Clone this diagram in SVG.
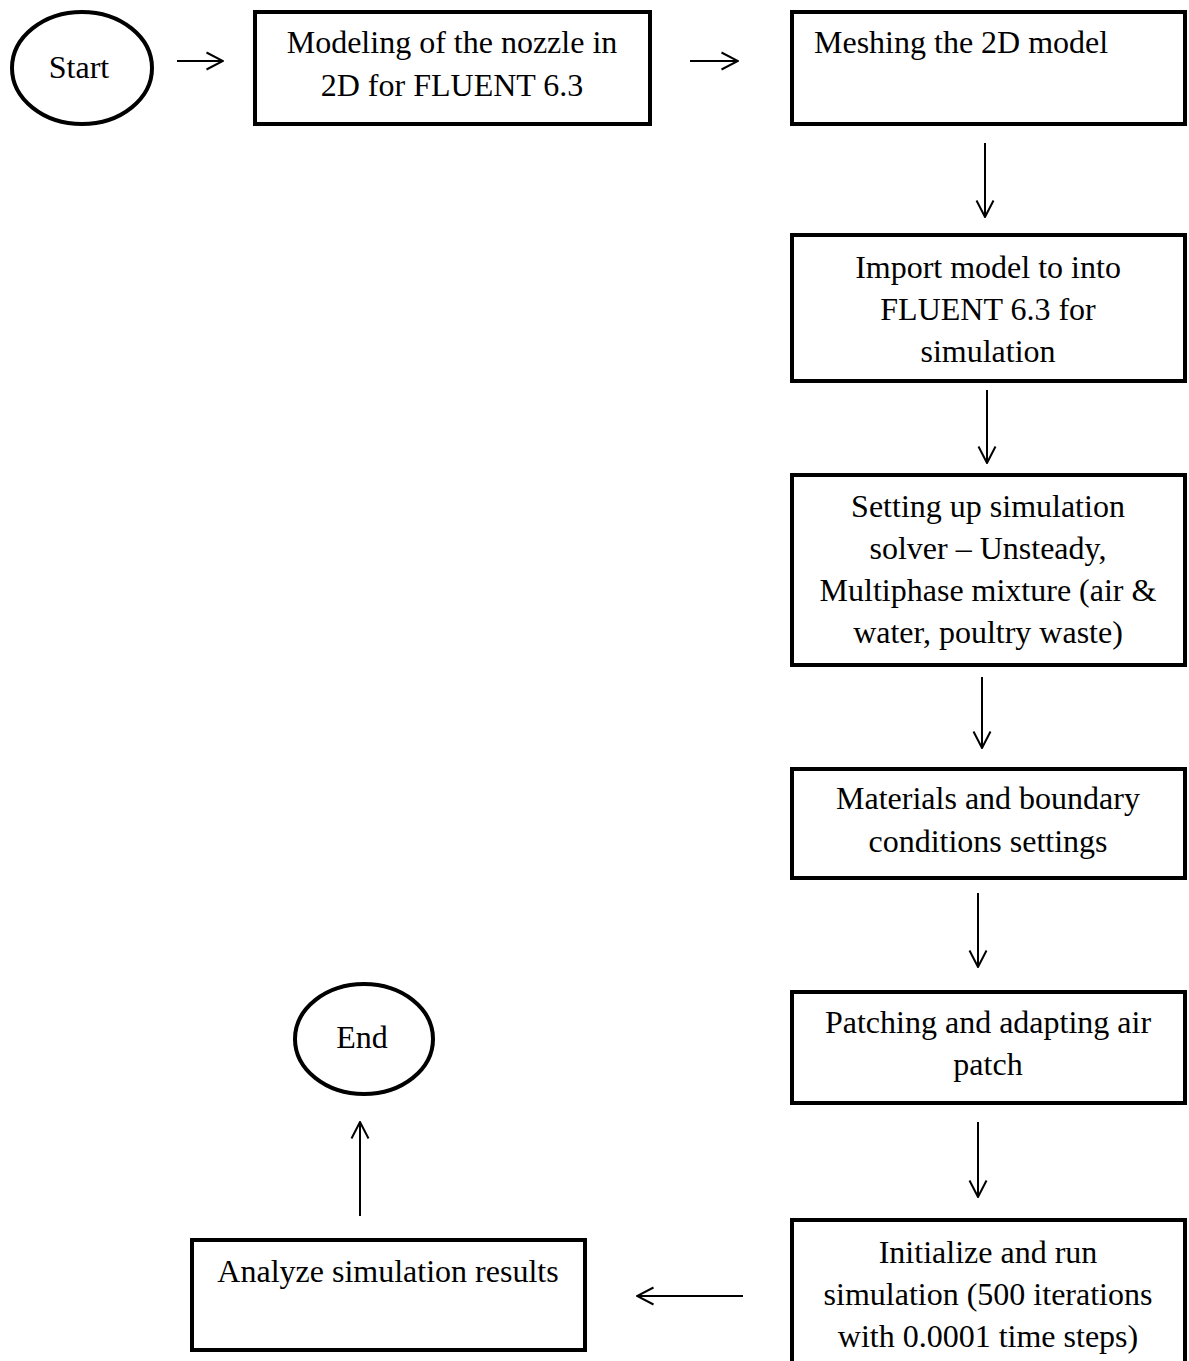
<svg xmlns="http://www.w3.org/2000/svg" width="1189" height="1361" viewBox="0 0 1189 1361">
<style>
.box{fill:#fff;stroke:#000;stroke-width:4}
.term{fill:#fff;stroke:#000;stroke-width:4}
.t{font-family:"Liberation Serif","Times New Roman",serif;font-size:32px;fill:#000;text-anchor:middle}
.tl{text-anchor:start}
.c{stroke:#000;stroke-width:2;fill:none}
</style>
<defs>
<marker id="arr" viewBox="0 0 19 20" refX="18" refY="10" markerWidth="19" markerHeight="20" orient="auto" markerUnits="userSpaceOnUse">
<path d="M1.5,1.5 L18,10 L1.5,18.5" fill="none" stroke="#000" stroke-width="2"/>
</marker>
</defs>
<rect width="1189" height="1361" fill="#fff"/>
<g id="connectors">
<line class="c" x1="177" y1="61" x2="223" y2="61" marker-end="url(#arr)"/>
<line class="c" x1="690" y1="61" x2="738" y2="61" marker-end="url(#arr)"/>
<line class="c" x1="985" y1="143" x2="985" y2="217" marker-end="url(#arr)"/>
<line class="c" x1="987" y1="390" x2="987" y2="463" marker-end="url(#arr)"/>
<line class="c" x1="982" y1="677" x2="982" y2="748" marker-end="url(#arr)"/>
<line class="c" x1="978" y1="893" x2="978" y2="967" marker-end="url(#arr)"/>
<line class="c" x1="978" y1="1122" x2="978" y2="1197" marker-end="url(#arr)"/>
<line class="c" x1="743" y1="1296" x2="637" y2="1296" marker-end="url(#arr)"/>
<line class="c" x1="360" y1="1216" x2="360" y2="1122" marker-end="url(#arr)"/>
</g>
<g id="start">
<ellipse class="term" cx="82" cy="68" rx="70" ry="56"/>
<text class="t" x="79" y="78">Start</text>
</g>
<g id="modeling">
<rect class="box" x="255" y="12" width="395" height="112"/>
<text class="t" x="452" y="53">Modeling of the nozzle in</text>
<text class="t" x="452" y="96">2D for FLUENT 6.3</text>
</g>
<g id="meshing">
<rect class="box" x="792" y="12" width="393" height="112"/>
<text class="t tl" x="814" y="53">Meshing the 2D model</text>
</g>
<g id="import">
<rect class="box" x="792" y="235" width="393" height="146"/>
<text class="t" x="988" y="278">Import model to into</text>
<text class="t" x="988" y="320">FLUENT 6.3 for</text>
<text class="t" x="988" y="362">simulation</text>
</g>
<g id="setup">
<rect class="box" x="792" y="475" width="393" height="190"/>
<text class="t" x="988" y="517">Setting up simulation</text>
<text class="t" x="988" y="559">solver – Unsteady,</text>
<text class="t" x="988" y="601">Multiphase mixture (air &amp;</text>
<text class="t" x="988" y="643">water, poultry waste)</text>
</g>
<g id="materials">
<rect class="box" x="792" y="769" width="393" height="109"/>
<text class="t" x="988" y="809">Materials and boundary</text>
<text class="t" x="988" y="852">conditions settings</text>
</g>
<g id="patching">
<rect class="box" x="792" y="992" width="393" height="111"/>
<text class="t" x="988" y="1033">Patching and adapting air</text>
<text class="t" x="988" y="1075">patch</text>
</g>
<g id="initialize">
<rect class="box" x="792" y="1220" width="393" height="160"/>
<text class="t" x="988" y="1263">Initialize and run</text>
<text class="t" x="988" y="1305">simulation (500 iterations</text>
<text class="t" x="988" y="1347">with 0.0001 time steps)</text>
</g>
<g id="analyze">
<rect class="box" x="192" y="1240" width="393" height="110"/>
<text class="t" x="388" y="1282">Analyze simulation results</text>
</g>
<g id="end">
<ellipse class="term" cx="364" cy="1039" rx="69" ry="55"/>
<text class="t" x="362" y="1048">End</text>
</g>
</svg>
